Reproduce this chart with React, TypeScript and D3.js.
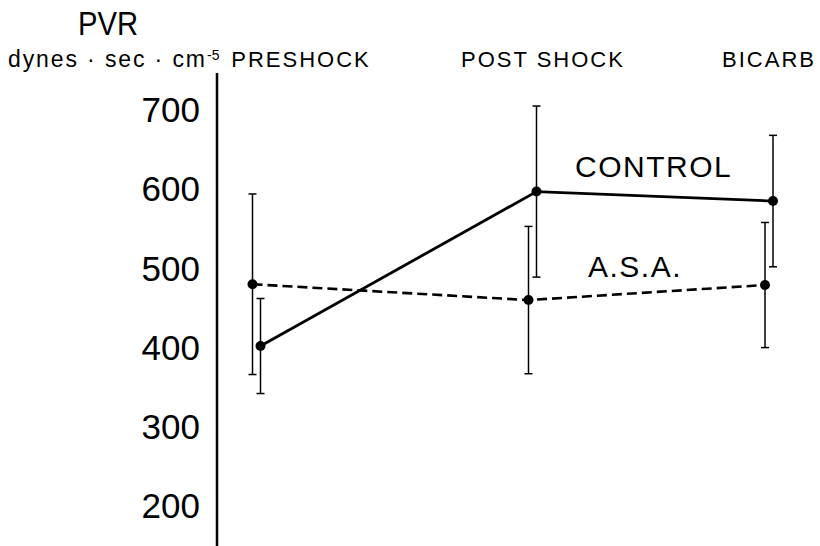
import React, { useEffect, useRef } from 'react'
import * as d3 from 'd3'

// PVR by phase, mean and error (dynes.sec.cm-5)
const categories = ['PRESHOCK', 'POST SHOCK', 'BICARB']
const controlMean = [402, 597, 585]
const controlErr = [60, 108, 83]
const asaMean = [480, 460, 479]
const asaErr = [114, 93, 79]
const yTicks = [200, 300, 400, 500, 600, 700]

const FONT = '"Liberation Sans", Arial, Helvetica, sans-serif'

function App () {
  const ref = useRef<SVGSVGElement>(null)

  useEffect(() => {
    const svg = d3.select(ref.current)
    svg.selectAll('*').remove()

    const width = 820
    const height = 546
    const axisX = 217

    const y = d3.scaleLinear().domain([200, 700]).range([506, 110])
    // points are not evenly spaced in the original figure
    const x = d3.scaleOrdinal<string, number>().domain(categories).range([256.5, 532.5, 769])
    const header = d3.scaleOrdinal<string, number>().domain(categories).range([301, 543, 769])

    svg.attr('width', width).attr('height', height)

    // y axis line (no ticks)
    svg.append('line')
      .attr('x1', axisX).attr('x2', axisX)
      .attr('y1', 73).attr('y2', height)
      .attr('stroke', '#000')
      .attr('stroke-width', 2.5)

    svg.append('g')
      .selectAll('text')
      .data(yTicks)
      .enter()
      .append('text')
      .attr('x', 200)
      .attr('y', d => y(d))
      .attr('dy', '0.35em')
      .attr('text-anchor', 'end')
      .attr('font-family', FONT)
      .attr('font-size', 35)
      .text(d => d)

    // titles
    svg.append('text')
      .attr('x', 108).attr('y', 35)
      .attr('text-anchor', 'middle')
      .attr('font-family', FONT)
      .attr('font-size', 34)
      .attr('textLength', 60)
      .attr('lengthAdjust', 'spacingAndGlyphs')
      .text('PVR')

    svg.append('text')
      .attr('x', 8).attr('y', 67)
      .attr('font-family', FONT)
      .attr('font-size', 23)
      .attr('textLength', 197)
      .attr('lengthAdjust', 'spacing')
      .text('dynes · sec · cm')
    svg.append('text')
      .attr('x', 207).attr('y', 60)
      .attr('font-family', FONT)
      .attr('font-size', 14)
      .text('-5')

    svg.append('g')
      .selectAll('text')
      .data(categories)
      .enter()
      .append('text')
      .attr('x', d => header(d))
      .attr('y', 67)
      .attr('text-anchor', 'middle')
      .attr('font-family', FONT)
      .attr('font-size', 22)
      .attr('letter-spacing', 2)
      .text(d => d)

    const series = [
      { name: 'CONTROL', mean: controlMean, err: controlErr, dx: 4, dash: null, lx: 575, ly: 177 },
      { name: 'A.S.A.', mean: asaMean, err: asaErr, dx: -4, dash: '10,5', lx: 588, ly: 277 }
    ]

    series.forEach(s => {
      const pts = categories.map((c, i) => ({ x: x(c) + s.dx, v: s.mean[i], e: s.err[i] }))

      const line = d3.line<{ x: number, v: number }>()
        .x(d => d.x)
        .y(d => y(d.v))

      svg.append('path')
        .datum(pts)
        .attr('fill', 'none')
        .attr('stroke', '#000')
        .attr('stroke-width', s.dash ? 2.6 : 2.8)
        .attr('stroke-dasharray', s.dash)
        .attr('d', line)

      const g = svg.append('g')
      pts.forEach(p => {
        g.append('line')
          .attr('x1', p.x).attr('x2', p.x)
          .attr('y1', y(p.v + p.e)).attr('y2', y(p.v - p.e))
          .attr('stroke', '#000').attr('stroke-width', 1.5)
        ;[p.v + p.e, p.v - p.e].forEach(v => {
          g.append('line')
            .attr('x1', p.x - 4).attr('x2', p.x + 4)
            .attr('y1', y(v)).attr('y2', y(v))
            .attr('stroke', '#000').attr('stroke-width', 1.5)
        })
        g.append('circle')
          .attr('cx', p.x).attr('cy', y(p.v))
          .attr('r', 5)
          .attr('fill', '#000')
      })

      svg.append('text')
        .attr('x', s.lx).attr('y', s.ly)
        .attr('font-family', FONT)
        .attr('font-size', 30)
        .attr('letter-spacing', 1.5)
        .text(s.name)
    })
  }, [])

  return (
    <svg ref={ref} style={{ position: 'absolute', left: 0, top: 0, background: '#fff' }} />
  )
}

export default App
